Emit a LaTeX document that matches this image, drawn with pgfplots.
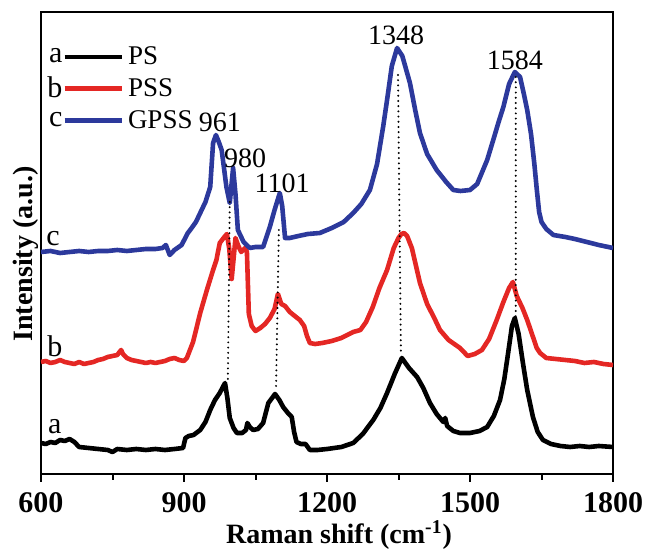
\documentclass[border=0pt]{standalone}
\usepackage{fontspec}
\setmainfont{Liberation Serif}
\usepackage{pgfplots}
\pgfplotsset{compat=1.18}
\definecolor{pssred}{RGB}{228,39,36}
\definecolor{gpssblue}{RGB}{44,57,156}
\newcommand{\lbl}{\fontsize{14}{16}\selectfont}
\pgfplotsset{
    lettered legend/.style={legend image code/.code={%
        \draw[##1] (0pt,0pt) -- (28.5pt,0pt);
        \node[anchor=east, inner sep=0pt, text=black, font=\fontsize{15}{15}\selectfont] at (0pt,0pt) {#1};}},
    guide/.style={black, line width=1.1pt, line cap=round, dash pattern=on 0pt off 2.6pt, forget plot},
}
\begin{document}
\begin{tikzpicture}
\begin{axis}[
    name=ax,
    scale only axis,
    width=286pt, height=231pt,
    xmin=600, xmax=1800, ymin=0, ymax=462,
    xtick={600,900,1200,1500,1800},
    minor x tick num=1,
    ytick=\empty,
    xtick pos=bottom,
    tick align=outside,
    major tick length=4pt, minor tick length=3pt,
    axis line style={line width=1pt},
    every tick/.style={line width=1pt, black},
    /pgf/number format/assume math mode=true,
    /pgf/number format/1000 sep={},
    xticklabel style={font=\fontsize{15}{15}\selectfont\bfseries, anchor=center, yshift=-10.5pt, inner sep=0pt},
    xlabel={Raman shift (cm\textsuperscript{-1})},
    ylabel={Intensity (a.u.)},
    xlabel style={font=\fontsize{14}{14}\selectfont\bfseries, at={(axis description cs:0.521,-0.132)}, anchor=center, inner sep=0pt},
    ylabel style={font=\fontsize{14}{14}\selectfont\bfseries, at={(axis description cs:-0.027,0.476)}, anchor=center},
    legend style={draw=none, fill=none, at={(axis description cs:0.0105,0.935)}, anchor=north west,
        font=\fontsize{13.5}{15}\selectfont, inner sep=0pt, row sep=1.5pt,
        /tikz/every even column/.append style={column sep=4pt}},
    legend cell align=left,
    every axis plot/.append style={line width=2.3pt, line join=round},
]
\addplot[black, lettered legend=a] coordinates {
(600,31) (610,30) (620,32) (630,31) (640,34) (650,33) (660,35) (670,32) (680,27) (700,26) (720,25) (740,24) (750,22) (760,25) (780,24) (800,25) (820,24) (840,25) (860,24) (880,25) (898,26) (903,36) (910,38) (920,39) (934,44) (945,52) (955,64) (965,74) (975,81) (986,91) (991,76) (996,56) (1004,46) (1011,41) (1022,41) (1030,44) (1033,51) (1038,47) (1045,44) (1055,45) (1066,51) (1072,62) (1077,71) (1091,80) (1100,74) (1108,67) (1118,61) (1126,57) (1131,42) (1136,32) (1145,30) (1155,30) (1164,24) (1180,24) (1200,25) (1230,27) (1255,31) (1275,40) (1297,54) (1312,66) (1326,81) (1342,100) (1357,116) (1372,106) (1389,97) (1402,86) (1416,71) (1430,60) (1444,52) (1448,56) (1452,48) (1465,43) (1479,41) (1500,41) (1520,43) (1536,47) (1550,58) (1563,74) (1572,95) (1580,121) (1588,148) (1594,156) (1602,140) (1611,111) (1620,84) (1632,57) (1642,42) (1653,34) (1670,30) (1690,28) (1710,27) (1730,28) (1750,27) (1770,28) (1800,27)
};
\addlegendentry{PS}
\addplot[pssred, lettered legend=b] coordinates {
(600,112) (610,113) (620,111) (630,112) (640,114) (650,112) (660,111) (670,110) (680,112) (690,110) (700,111) (710,112) (720,114) (730,115) (740,117) (750,118) (760,119) (768,124) (772,120) (780,116) (790,114) (800,113) (810,112) (820,111) (830,112) (840,111) (850,112) (860,113) (870,115) (880,116) (890,114) (900,113) (906,116) (919,132) (934,161) (948,184) (961,204) (968,214) (975,231) (983,236) (990,240) (995,225) (1000,195) (1004,215) (1008,236) (1014,228) (1020,222) (1028,226) (1032,222) (1036,160) (1042,148) (1050,143) (1060,146) (1070,150) (1080,156) (1090,165) (1097,180) (1104,170) (1112,168) (1122,162) (1135,157) (1143,154) (1152,148) (1158,138) (1164,131) (1175,130) (1190,131) (1210,133) (1230,136) (1255,142) (1270,144) (1282,152) (1296,167) (1310,186) (1326,204) (1340,226) (1350,236) (1356,240) (1362,241) (1368,238) (1378,226) (1395,191) (1410,170) (1425,156) (1437,144) (1455,134) (1479,126) (1495,118) (1510,120) (1525,124) (1540,135) (1556,154) (1570,172) (1582,186) (1590,192) (1598,178) (1610,166) (1620,154) (1630,140) (1640,126) (1647,121) (1660,116) (1680,115) (1700,114) (1720,113) (1740,111) (1760,112) (1780,110) (1800,109)
};
\addlegendentry{PSS}
\addplot[gpssblue, lettered legend=c] coordinates {
(600,222) (620,223) (640,221) (660,222) (680,223) (700,222) (720,223) (740,223) (760,224) (780,223) (800,224) (820,225) (840,225) (855,226) (862,229) (870,219) (880,224) (895,229) (908,241) (913,244) (925,252) (934,261) (945,272) (955,287) (961,331) (967,339) (973,332) (979,324) (989,287) (996,271) (1003,306) (1008,280) (1013,244) (1025,232) (1038,226) (1050,227) (1066,227) (1080,247) (1090,264) (1101,281) (1106,268) (1112,236) (1122,236) (1140,238) (1160,240) (1185,241) (1210,246) (1235,252) (1255,261) (1272,270) (1290,284) (1305,310) (1318,348) (1326,374) (1336,408) (1347,426) (1358,418) (1374,391) (1385,364) (1395,341) (1410,320) (1430,304) (1450,292) (1465,284) (1480,283) (1500,284) (1515,290) (1536,314) (1550,336) (1560,352) (1570,367) (1582,390) (1594,402) (1605,397) (1613,380) (1620,364) (1628,340) (1635,310) (1640,285) (1645,262) (1650,252) (1660,245) (1675,239) (1700,237) (1720,235) (1745,232) (1770,229) (1800,226)
};
\addlegendentry{GPSS}
% dotted guides
\addplot[guide] coordinates {(996,272) (992,94)};
\addplot[guide] coordinates {(1099,244) (1093,84)};
\addplot[guide] coordinates {(1349,399) (1355,121)};
\addplot[guide] coordinates {(1596,397) (1596,157)};
% peak labels
\node[font=\lbl] at (axis cs:1345,439) {1348};
\node[font=\lbl] at (axis cs:1594,414) {1584};
\node[font=\lbl] at (axis cs:975,352) {961};
\node[font=\lbl] at (axis cs:1028,316) {980};
\node[font=\lbl] at (axis cs:1106,291) {1101};
% curve letters
\node[font=\fontsize{15}{15}\selectfont] at (axis cs:625,235) {c};
\node[font=\fontsize{15}{15}\selectfont] at (axis cs:629,128) {b};
\node[font=\fontsize{15}{15}\selectfont] at (axis cs:629,47) {a};
\end{axis}
\pgfresetboundingbox
\path ([xshift=-20.5pt, yshift=-37.5pt]ax.south west) rectangle ([xshift=16.5pt, yshift=6pt]ax.north east);
\end{tikzpicture}
\end{document}
